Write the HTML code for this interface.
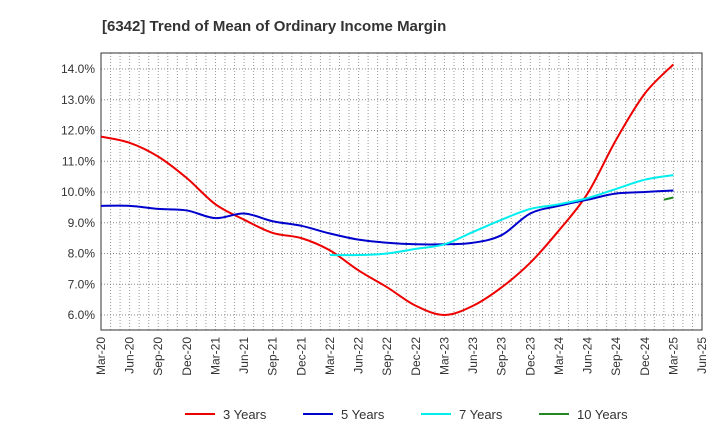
<!DOCTYPE html>
<html><head><meta charset="utf-8"><style>
body{margin:0;background:#fff;font-family:"Liberation Sans",sans-serif}
svg text{font-family:"Liberation Sans",sans-serif}
</style></head><body>
<svg id="c" width="720" height="440">
<text x="102" y="31" font-size="15" font-weight="bold" fill="#333">[6342]  Trend of Mean of Ordinary Income Margin</text>
<g id="grid"></g><g id="axes"></g><g id="series"></g><g id="legend"></g>
</svg>
<script>
const xLabels=["Mar-20","Jun-20","Sep-20","Dec-20","Mar-21","Jun-21","Sep-21","Dec-21","Mar-22","Jun-22","Sep-22","Dec-22","Mar-23","Jun-23","Sep-23","Dec-23","Mar-24","Jun-24","Sep-24","Dec-24","Mar-25","Jun-25"];
const yTicks=[6,7,8,9,10,11,12,13,14];
const s3=[11.8,11.6,11.15,10.45,9.6,9.1,8.67,8.5,8.1,7.45,6.9,6.3,6.0,6.3,6.9,7.7,8.75,9.95,11.7,13.2,14.15];
const s5=[9.55,9.55,9.45,9.4,9.15,9.3,9.05,8.9,8.65,8.45,8.35,8.3,8.3,8.35,8.6,9.3,9.55,9.75,9.95,10.0,10.05];
const s7=[7.95,7.95,8.0,8.15,8.3,8.7,9.1,9.45,9.6,9.8,10.1,10.4,10.55];
const s7start=8;
const s10=[9.75,9.82];
const s10startMonth=59;
const L=101,R=702,T=53,B=330;
const x=m=>L+(R-L)*m/63;
const y=v=>69+(14-v)*30.75;
const NS="http://www.w3.org/2000/svg";
function mk(p,t,a){const e=document.createElementNS(NS,t);for(const k in a)e.setAttribute(k,a[k]);p.appendChild(e);return e;}
const g=document.getElementById('grid'),ax=document.getElementById('axes'),se=document.getElementById('series'),lg=document.getElementById('legend');
for(let m=1;m<63;m++){const l=mk(g,'line',{x1:x(m),x2:x(m),y1:T,y2:B,stroke:'#999','stroke-dasharray':'1,2','stroke-width':1});

}
yTicks.forEach(v=>{const l=mk(g,'line',{x1:L,x2:R,y1:y(v),y2:y(v),stroke:'#888','stroke-dasharray':'1,2','stroke-width':1});


const t=mk(ax,'text',{x:L-6,y:y(v)+4,'text-anchor':'end','font-size':12,fill:'#333'});t.textContent=v.toFixed(1)+'%';

});
const fr=mk(ax,'rect',{x:L,y:T,width:R-L,height:B-T,fill:'none',stroke:'#333','stroke-width':1});


xLabels.forEach((s,i)=>{const xx=x(i*3);const t=mk(ax,'text',{x:0,y:0,'text-anchor':'end','font-size':12,fill:'#333',transform:`translate(${xx+4},${B+7}) rotate(-90)`});t.textContent=s;

});
function path(pts){let d=`M${pts[0][0]},${pts[0][1]}`;for(let i=0;i<pts.length-1;i++){const p0=pts[i-1]||pts[i],p1=pts[i],p2=pts[i+1],p3=pts[i+2]||p2;
d+=` C${p1[0]+(p2[0]-p0[0])/6},${p1[1]+(p2[1]-p0[1])/6} ${p2[0]-(p3[0]-p1[0])/6},${p2[1]-(p3[1]-p1[1])/6} ${p2[0]},${p2[1]}`;}return d;}
function draw(arr,startM,step,col,name){const pts=arr.map((v,i)=>[x(startM+i*step),y(v)]);const p=mk(se,'path',{d:path(pts),fill:'none',stroke:col,'stroke-width':2});

}
draw(s3,0,3,'#e00','series-3-years');
draw(s5,0,3,'#00c','series-5-years');
draw(s7,s7start*3,3,'#0ee','series-7-years');
draw(s10,s10startMonth,1,'#228822','series-10-years');
const leg=[["3 Years","#e00",185],["5 Years","#00c",303],["7 Years","#0ee",421],["10 Years","#228822",539]];
leg.forEach(([n,c,lx])=>{const l=mk(lg,'line',{x1:lx,x2:lx+30,y1:414,y2:414,stroke:c,'stroke-width':2});


const t=mk(lg,'text',{x:lx+38,y:419,'font-size':13,fill:'#333'});t.textContent=n;

});
</script>
</body></html>
